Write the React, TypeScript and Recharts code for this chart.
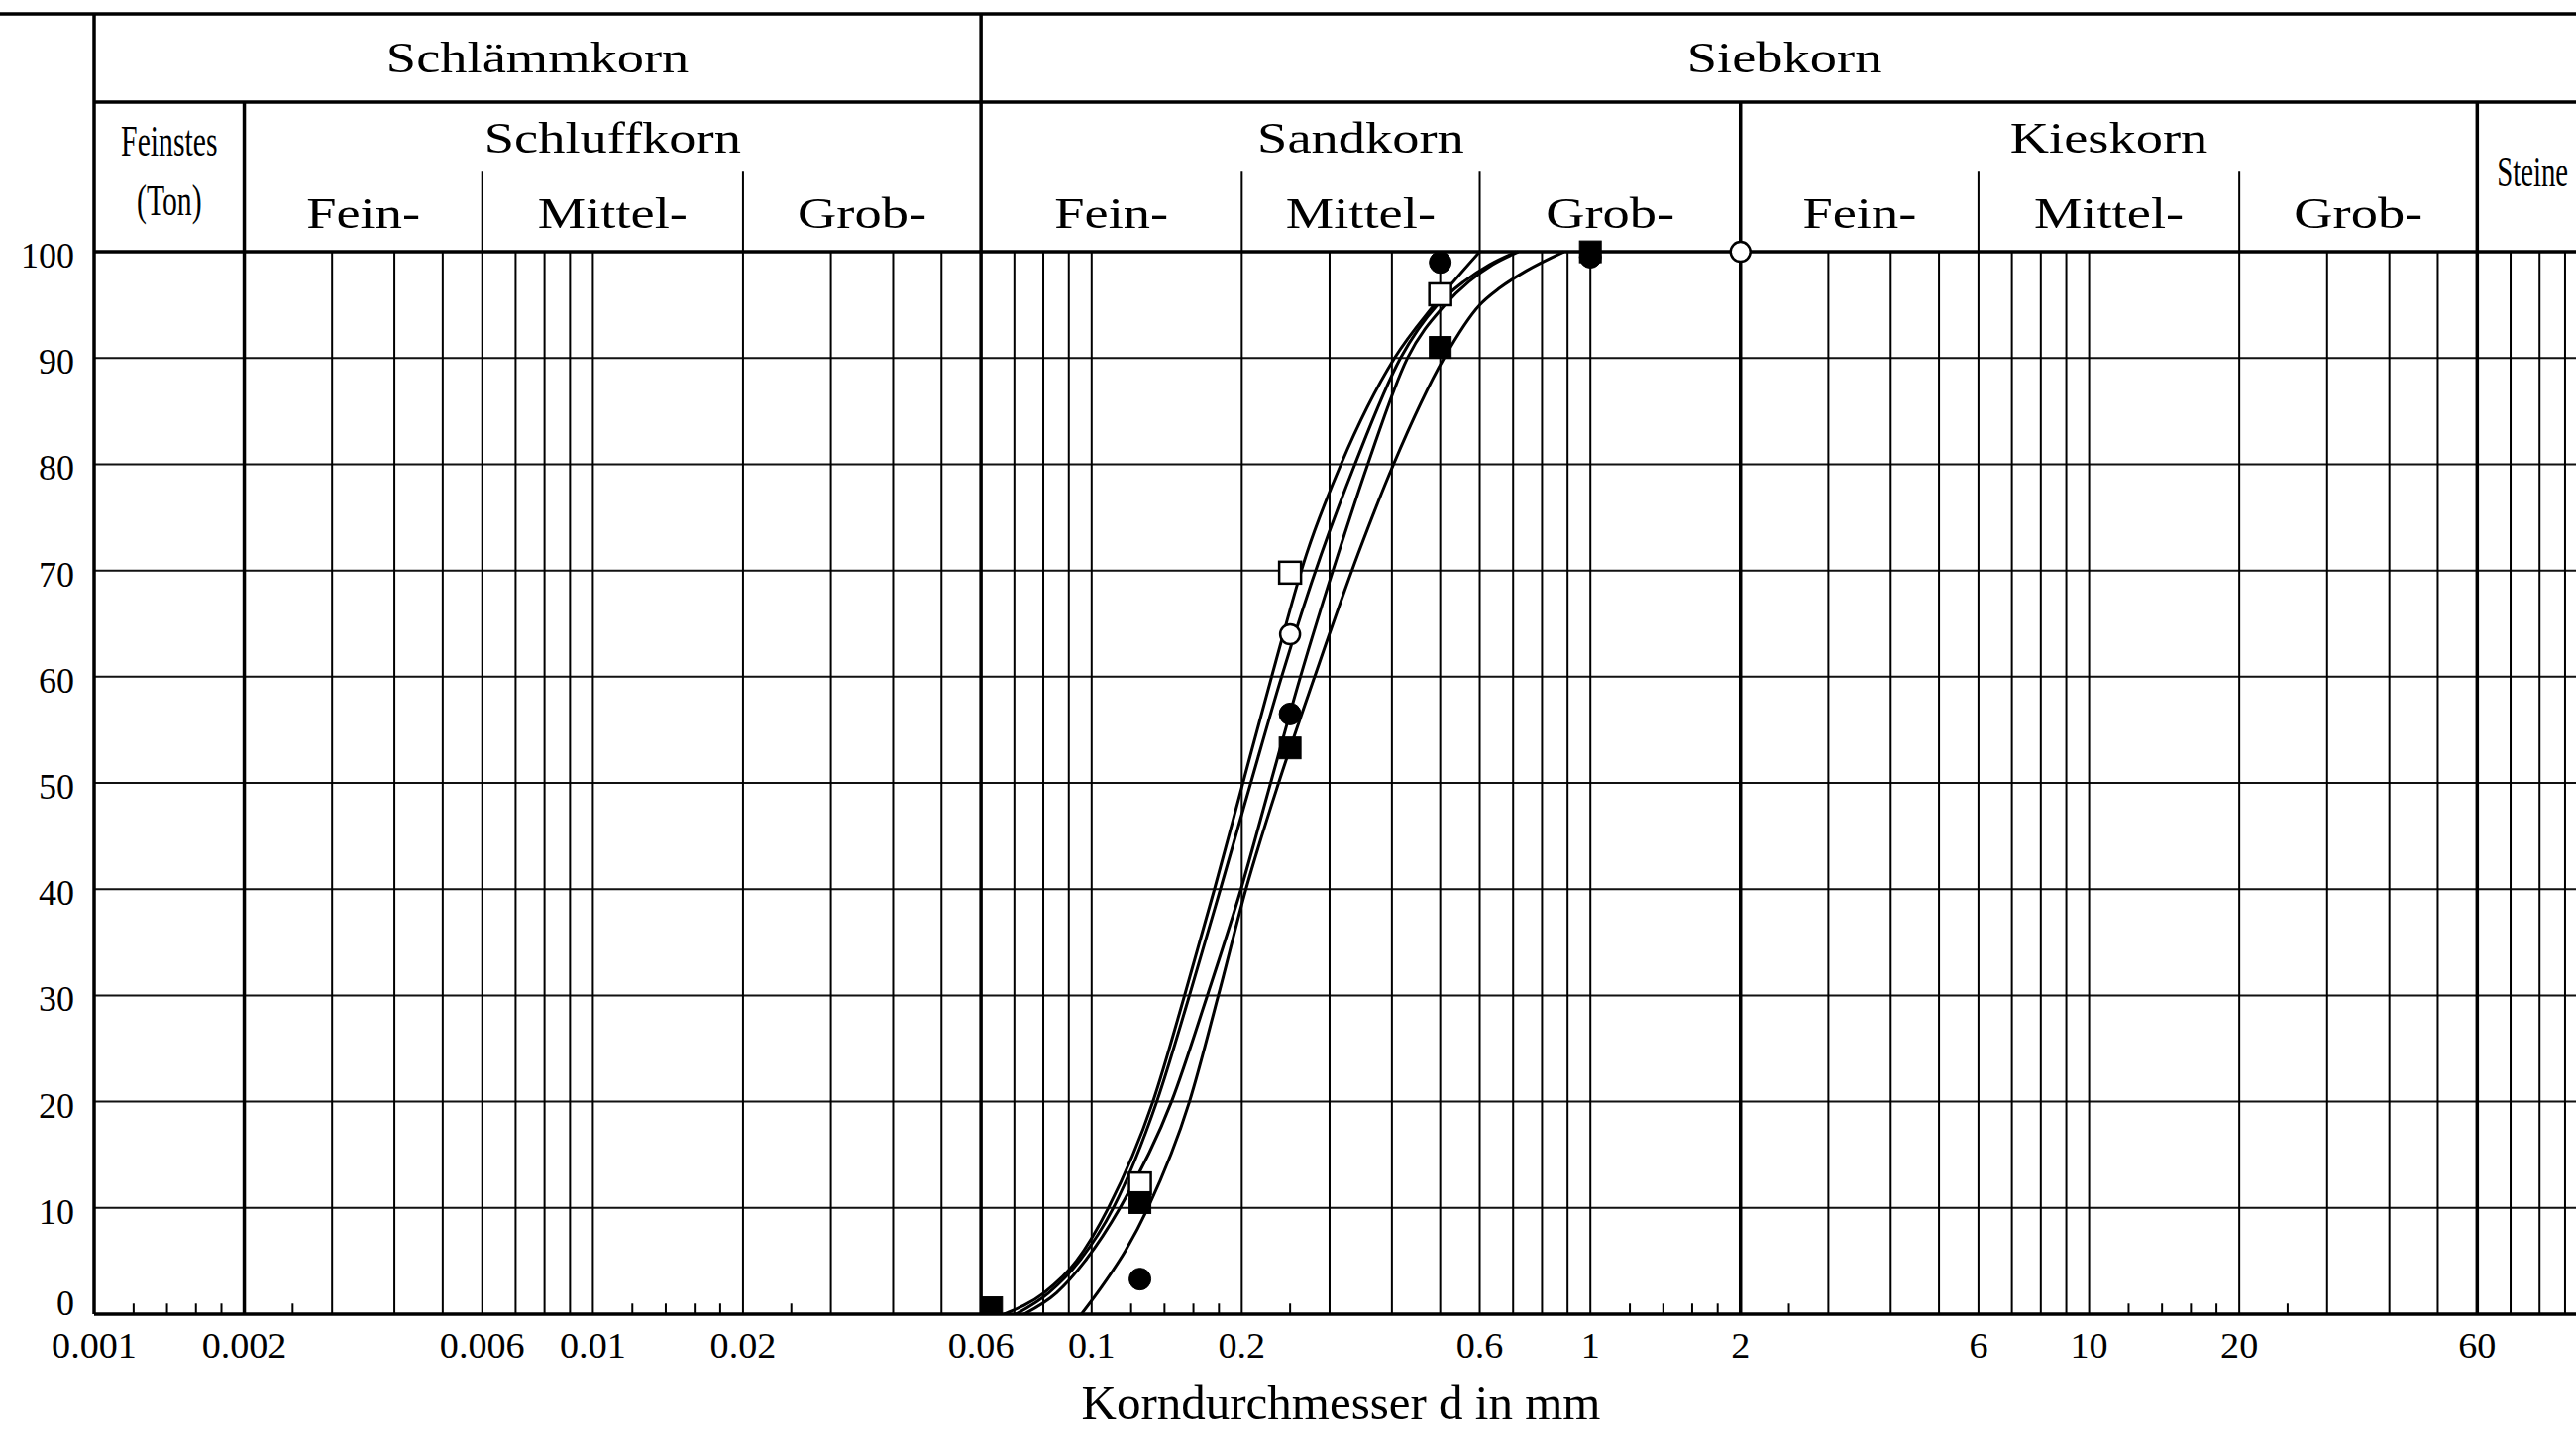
import React from 'react';
import {
  ComposedChart,
  Line,
  Scatter,
  XAxis,
  YAxis,
  CartesianGrid,
  ReferenceLine,
  ReferenceArea,
} from 'recharts';

const FONT = '"Liberation Serif", "Times New Roman", serif';

// axis frame (data units)
const X_MIN = 0.001;
const X_MAX = 100;
const Y_TOP = 122.4; // header band above 100 %
const Y_ROW1 = 114.1; // bottom of Schlämmkorn / Siebkorn row
const Y_SUB = 107.55; // top of Fein-/Mittel-/Grob- separators
const FRAME_LEFT = 0.00064; // top rule runs out to the page edge

const xTicks = [0.001, 0.002, 0.006, 0.01, 0.02, 0.06, 0.1, 0.2, 0.6, 1, 2, 6, 10, 20, 60];
const yTicks = [0, 10, 20, 30, 40, 50, 60, 70, 80, 90, 100];

const frameLinesFull = [0.001, 0.06];
const frameLinesMajor = [0.002, 2, 60];
const subDivLines = [0.006, 0.02, 0.2, 0.6, 6, 20];
const gridLines = [
  0.003, 0.004, 0.005, 0.007, 0.008, 0.009, 0.01, 0.03, 0.04, 0.05, 0.07, 0.08, 0.09, 0.1,
  0.3, 0.4, 0.5, 0.7, 0.8, 0.9, 1, 3, 4, 5, 7, 8, 9, 10, 30, 40, 50, 70, 80, 90,
];
const minorTicks = [
  0.0012, 0.0014, 0.0016, 0.0018, 0.0025, 0.012, 0.014, 0.016, 0.018, 0.025, 0.12, 0.14, 0.16,
  0.18, 0.25, 1.2, 1.4, 1.6, 1.8, 2.5, 12, 14, 16, 18, 25,
];

const headerTop = [
  { label: 'Schlämmkorn', from: 0.001, to: 0.06 },
  { label: 'Siebkorn', from: 0.06, to: 100 },
];
const headerMain = [
  { label: 'Schluffkorn', from: 0.002, to: 0.06 },
  { label: 'Sandkorn', from: 0.06, to: 2 },
  { label: 'Kieskorn', from: 2, to: 60 },
];
const headerSub = [
  { label: 'Fein-', from: 0.002, to: 0.006 },
  { label: 'Mittel-', from: 0.006, to: 0.02 },
  { label: 'Grob-', from: 0.02, to: 0.06 },
  { label: 'Fein-', from: 0.06, to: 0.2 },
  { label: 'Mittel-', from: 0.2, to: 0.6 },
  { label: 'Grob-', from: 0.6, to: 2 },
  { label: 'Fein-', from: 2, to: 6 },
  { label: 'Mittel-', from: 6, to: 20 },
  { label: 'Grob-', from: 20, to: 60 },
];

// fitted grading curves (d in mm, passing in %)
const curveOpenSquare = [
  { d: 0.0668, p: 0 }, { d: 0.0802, p: 2 }, { d: 0.0932, p: 5 }, { d: 0.108, p: 10 },
  { d: 0.1327, p: 20 }, { d: 0.1536, p: 30 }, { d: 0.1763, p: 40 }, { d: 0.2011, p: 50 },
  { d: 0.2296, p: 60 }, { d: 0.2695, p: 71.5 }, { d: 0.3162, p: 80 },
  { d: 0.4049, p: 90 }, { d: 0.4861, p: 95 }, { d: 0.6, p: 100 },
];
const curveOpenCircle = [
  { d: 0.0705, p: 0 }, { d: 0.082, p: 2 }, { d: 0.0945, p: 5 }, { d: 0.1105, p: 10 },
  { d: 0.1351, p: 20 }, { d: 0.1571, p: 30 }, { d: 0.1812, p: 40 }, { d: 0.2085, p: 50 },
  { d: 0.2404, p: 60 }, { d: 0.2886, p: 71.5 }, { d: 0.3372, p: 80 },
  { d: 0.4162, p: 90 }, { d: 0.4934, p: 95 }, { d: 0.5576, p: 97.2 }, { d: 0.6281, p: 98.8 },
  { d: 0.7106, p: 100 },
];
const curveFilledCircle = [
  { d: 0.0732, p: 0 }, { d: 0.085, p: 2 }, { d: 0.097, p: 5 }, { d: 0.114, p: 10 },
  { d: 0.1446, p: 20 }, { d: 0.1706, p: 30 }, { d: 0.1993, p: 40 }, { d: 0.2285, p: 50 },
  { d: 0.2622, p: 60 }, { d: 0.3119, p: 71.5 }, { d: 0.3578, p: 80 }, { d: 0.4297, p: 90 },
  { d: 0.5109, p: 95 }, { d: 0.5709, p: 97.2 }, { d: 0.6369, p: 98.8 }, { d: 0.7172, p: 100 },
];
const curveFilledSquare = [
  { d: 0.0954, p: 0 }, { d: 0.1045, p: 2.5 }, { d: 0.117, p: 6 }, { d: 0.1297, p: 10 },
  { d: 0.1571, p: 20 }, { d: 0.1795, p: 30 }, { d: 0.2039, p: 40 }, { d: 0.2371, p: 50 },
  { d: 0.28, p: 60 }, { d: 0.3418, p: 71.5 }, { d: 0.403, p: 80 }, { d: 0.5089, p: 90 },
  { d: 0.6, p: 95 }, { d: 0.658, p: 96.6 }, { d: 0.743, p: 98.2 }, { d: 0.8851, p: 100 },
];

// sieve results
const pointsOpenSquare = [
  { d: 0.125, p: 12.3 }, { d: 0.25, p: 69.8 }, { d: 0.5, p: 96.0 },
];
const pointsOpenCircle = [
  { d: 0.25, p: 64.0 }, { d: 2, p: 100 },
];
const pointsFilledCircle = [
  { d: 0.125, p: 3.3 }, { d: 0.25, p: 56.5 }, { d: 0.5, p: 99.0 }, { d: 1, p: 99.5 },
];
const pointsFilledSquare = [
  { d: 0.063, p: 0.6 }, { d: 0.125, p: 10.5 }, { d: 0.25, p: 53.3 }, { d: 0.5, p: 91.0 }, { d: 1, p: 100 },
];

const XTick = (props: any) => {
  const { x, y, payload } = props;
  return (
    <text
      transform={`translate(${x},${y + 44}) scale(1.09,1)`}
      textAnchor="middle"
      fontFamily={FONT}
      fontSize={35}
      fill="#000"
    >
      {String(payload.value)}
    </text>
  );
};

const YTick = (props: any) => {
  const { x, y, payload } = props;
  const dy = payload.value === 0 ? 1 : 16;
  return (
    <text x={x - 20} y={y + dy} textAnchor="end" fontFamily={FONT} fontSize={36} fill="#000">
      {payload.value}
    </text>
  );
};

// text centred in a header cell; each line: [text, baseline offset from centre]
const cellText = (lines: [string, number][], size: number, sx: number) => (props: any) => {
  const { x, y, width, height } = props.viewBox;
  const cx = x + width / 2;
  const cy = y + height / 2;
  return (
    <g>
      {lines.map(([t, dy]) => (
        <text
          key={t}
          transform={`translate(${cx},${cy + dy}) scale(${sx},1)`}
          textAnchor="middle"
          fontFamily={FONT}
          fontSize={size}
          fill="#000"
        >
          {t}
        </text>
      ))}
    </g>
  );
};

const axisTitle = (props: any) => {
  const { x, y, width } = props.viewBox;
  return (
    <text x={x + width / 2} y={y + 106} textAnchor="middle" fontFamily={FONT} fontSize={49} fill="#000">
      Korndurchmesser d in mm
    </text>
  );
};

const squareShape = (filled: boolean) => (props: any) => {
  const s = 22;
  return (
    <rect
      x={props.cx - s / 2}
      y={props.cy - s / 2}
      width={s}
      height={s}
      fill={filled ? '#000' : '#fff'}
      stroke="#000"
      strokeWidth={filled ? 1 : 2.5}
    />
  );
};

const circleShape = (filled: boolean) => (props: any) => (
  <circle
    cx={props.cx}
    cy={props.cy}
    r={filled ? 11 : 10}
    fill={filled ? '#000' : '#fff'}
    stroke="#000"
    strokeWidth={filled ? 1 : 2.5}
  />
);

const vLine = (x: number, top: number, width: number, key: string) => (
  <ReferenceLine
    key={key}
    segment={[{ x, y: 0 }, { x, y: top }]}
    stroke="#000"
    strokeWidth={width}
    ifOverflow="visible"
  />
);

const hLine = (y: number, from: number, width: number, key: string) => (
  <ReferenceLine
    key={key}
    segment={[{ x: from, y }, { x: X_MAX, y }]}
    stroke="#000"
    strokeWidth={width}
    ifOverflow="visible"
  />
);

export default function App() {
  return (
    <div
      style={{
        position: 'absolute',
        left: 0,
        top: 0,
        width: 2600,
        height: 1451,
        overflow: 'hidden',
        background: '#fff',
      }}
    >
      <ComposedChart width={2612} height={1451} margin={{ top: 14, right: 0, bottom: 0, left: 0 }}>
        <CartesianGrid horizontal vertical={false} stroke="#111" strokeWidth={2} />
        <XAxis
          dataKey="d"
          type="number"
          scale="log"
          domain={[X_MIN, X_MAX]}
          allowDataOverflow
          ticks={xTicks}
          interval={0}
          tick={XTick}
          tickLine={false}
          tickSize={0}
          tickMargin={0}
          axisLine={false}
          height={125}
          label={axisTitle}
        />
        <YAxis
          dataKey="p"
          type="number"
          domain={[0, Y_TOP]}
          allowDataOverflow
          ticks={yTicks}
          interval={0}
          tick={YTick}
          tickLine={false}
          tickSize={0}
          tickMargin={0}
          axisLine={false}
          width={95}
        />

        {gridLines.map((v) => vLine(v, 100, 2, `g${v}`))}
        {minorTicks.map((v) => vLine(v, 1.0, 2, `m${v}`))}
        {subDivLines.map((v) => vLine(v, Y_SUB, 2, `s${v}`))}
        {frameLinesMajor.map((v) => vLine(v, Y_ROW1, 3.5, `M${v}`))}
        {frameLinesFull.map((v) => vLine(v, Y_TOP, 3.5, `F${v}`))}

        {hLine(0, X_MIN, 3.5, 'h0')}
        {hLine(100, X_MIN, 3.5, 'h100')}
        {hLine(Y_ROW1, X_MIN, 3.5, 'hrow')}
        {hLine(Y_TOP, FRAME_LEFT, 3.5, 'htop')}

        {headerTop.map((c) => (
          <ReferenceArea
            key={c.label}
            x1={c.from}
            x2={c.to}
            y1={Y_ROW1}
            y2={Y_TOP}
            fillOpacity={0}
            stroke="none"
            ifOverflow="visible"
            label={cellText([[c.label, 14.5]], 45, 1.21)}
          />
        ))}
        {headerMain.map((c) => (
          <ReferenceArea
            key={c.label}
            x1={c.from}
            x2={c.to}
            y1={Y_SUB}
            y2={Y_ROW1}
            fillOpacity={0}
            stroke="none"
            ifOverflow="visible"
            label={cellText([[c.label, 15.5]], 45, 1.21)}
          />
        ))}
        {headerSub.map((c) => (
          <ReferenceArea
            key={`${c.label}${c.from}`}
            x1={c.from}
            x2={c.to}
            y1={100}
            y2={Y_SUB}
            fillOpacity={0}
            stroke="none"
            ifOverflow="visible"
            label={cellText([[c.label, 16]], 45, 1.21)}
          />
        ))}
        <ReferenceArea
          x1={0.001}
          x2={0.002}
          y1={100}
          y2={Y_ROW1}
          fillOpacity={0}
          stroke="none"
          ifOverflow="visible"
          label={cellText([['Feinstes', -21.5], ['(Ton)', 38.5]], 45, 0.66)}
        />
        <ReferenceArea
          x1={60}
          x2={100}
          y1={100}
          y2={Y_ROW1}
          fillOpacity={0}
          stroke="none"
          ifOverflow="visible"
          label={cellText([['Steine', 9.5]], 45, 0.64)}
        />

        <Line data={curveOpenSquare} dataKey="p" type="monotone" stroke="#000" strokeWidth={3} dot={false} isAnimationActive={false} />
        <Line data={curveOpenCircle} dataKey="p" type="monotone" stroke="#000" strokeWidth={3} dot={false} isAnimationActive={false} />
        <Line data={curveFilledCircle} dataKey="p" type="monotone" stroke="#000" strokeWidth={3} dot={false} isAnimationActive={false} />
        <Line data={curveFilledSquare} dataKey="p" type="monotone" stroke="#000" strokeWidth={3} dot={false} isAnimationActive={false} />

        <Scatter data={pointsOpenSquare} dataKey="p" shape={squareShape(false)} isAnimationActive={false} />
        <Scatter data={pointsOpenCircle} dataKey="p" shape={circleShape(false)} isAnimationActive={false} />
        <Scatter data={pointsFilledCircle} dataKey="p" shape={circleShape(true)} isAnimationActive={false} />
        <Scatter data={pointsFilledSquare} dataKey="p" shape={squareShape(true)} isAnimationActive={false} />
      </ComposedChart>
    </div>
  );
}
